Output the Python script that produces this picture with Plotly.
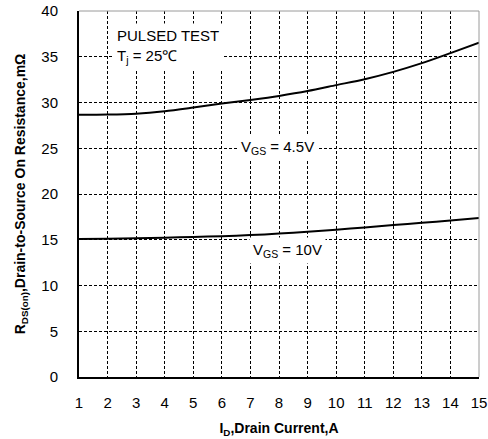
import plotly.graph_objects as go

current_a = [1, 2, 3, 4, 5, 6, 7, 8, 9, 10, 11, 12, 13, 14, 15]
rds_vgs_4_5 = [28.65, 28.68, 28.78, 29.05, 29.45, 29.88, 30.28, 30.72, 31.25, 31.9, 32.55, 33.35, 34.3, 35.4, 36.55]
rds_vgs_10 = [15.07, 15.12, 15.17, 15.23, 15.3, 15.39, 15.51, 15.67, 15.87, 16.1, 16.35, 16.6, 16.85, 17.1, 17.37]
y_ticks = [0, 5, 10, 15, 20, 25, 30, 35, 40]

FONT = "Liberation Sans, Arial, sans-serif"

fig = go.Figure()
for ys in (rds_vgs_4_5, rds_vgs_10):
    fig.add_trace(go.Scatter(x=current_a, y=ys, mode="lines",
                             line=dict(color="black", width=2, shape="spline", smoothing=0.8),
                             showlegend=False, hoverinfo="skip"))

fig.update_layout(
    width=488, height=439,
    margin=dict(l=79, r=9, t=11, b=62),
    paper_bgcolor="white", plot_bgcolor="white",
    font=dict(family=FONT, size=15, color="black"),
    xaxis=dict(range=[1, 15], dtick=1, tick0=1, showgrid=True, gridcolor="black",
               gridwidth=1, griddash="3px,2px", showline=True, linecolor="black",
               linewidth=2, zeroline=False, ticks="", ticklabelstandoff=11,
               automargin=False, tickfont=dict(size=15),
               title=dict(text="<b>I<sub>D</sub>,Drain Current,A</b>",
                          font=dict(size=14), standoff=13)),
    yaxis=dict(range=[0, 40], tickvals=y_ticks, showgrid=True, gridcolor="black",
               gridwidth=1, griddash="3px,2px", showline=True, linecolor="black",
               linewidth=2, zeroline=False, ticks="", ticklabelstandoff=16,
               automargin=False, tickfont=dict(size=15),
               title=dict(text="<b>R<sub>DS(on)</sub>,Drain-to-Source On Resistance,mΩ</b>",
                          font=dict(size=14), standoff=12)),
    shapes=[
        dict(type="line", xref="paper", yref="paper", x0=0, x1=1, y0=1, y1=1,
             line=dict(color="#9a9a9a", width=1)),
        dict(type="line", xref="paper", yref="paper", x0=1, x1=1, y0=0, y1=1,
             line=dict(color="#9a9a9a", width=1)),
    ],
    annotations=[
        dict(xref="paper", yref="paper", x=0.085, y=0.968, xanchor="left", yanchor="top",
             text="PULSED TEST<br>T<sub>j</sub> = 25℃", showarrow=False, align="left",
             bgcolor="white", font=dict(size=15), borderpad=3),
        dict(xref="paper", yref="paper", x=0.395, y=0.628, xanchor="left", yanchor="middle",
             text="V<sub>GS</sub> = 4.5V", showarrow=False, bgcolor="white",
             font=dict(size=15), borderpad=3),
        dict(xref="paper", yref="paper", x=0.425, y=0.345, xanchor="left", yanchor="middle",
             text="V<sub>GS</sub> = 10V", showarrow=False, bgcolor="white",
             font=dict(size=15), borderpad=3),
    ],
)

fig.write_html("out.html", config={"displayModeBar": False},
               post_script="document.body.style.margin='0';")
